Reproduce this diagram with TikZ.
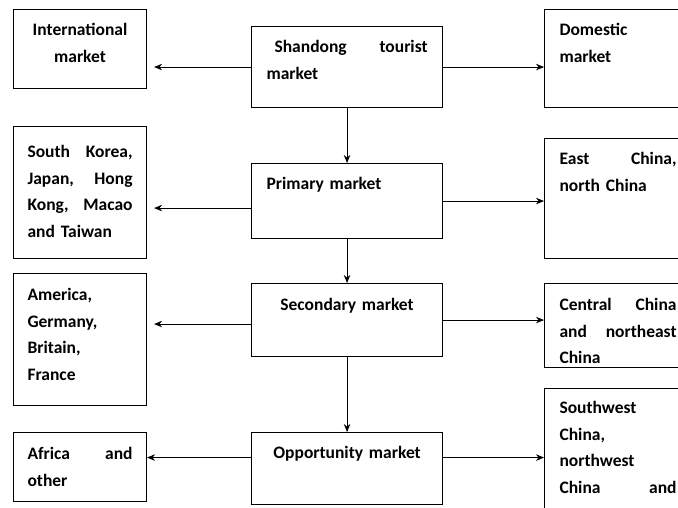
\documentclass[tikz,border=0pt]{standalone}
\usepackage{fontspec}
\setmainfont{Carlito}
\usetikzlibrary{arrows.meta}

\begin{document}
\begin{tikzpicture}[x=1pt, y=-1pt,
    sidebox/.style={rectangle, draw, line width=1.1pt, anchor=north west, inner xsep=14pt, inner ysep=0pt, text height=26pt, text width=105pt, align=left, font=\bfseries\fontsize{17.5}{26.5}\selectfont},
    mainbox/.style={sidebox, inner xsep=15pt, text width=161pt},
    farbox/.style={sidebox, inner xsep=15pt, text width=117pt},
    arrow/.style={->, line width=0.9pt, >={Stealth[length=8pt, width=6.5pt]}}]

    \clip (0,0) rectangle (678,507);

    \node[sidebox, align=center, text depth=53pt] (intl) at (13,9) {International\\market};
    \node[sidebox, text height=31pt, text depth=101pt] (kor) at (13,126) {South\hfill Korea,\\Japan,\hfill Hong\\Kong,\hfill Macao\\and Taiwan};
    \node[sidebox, text height=27pt, text depth=105pt] (amer) at (13,273) {America,\\Germany,\\Britain,\\France};
    \node[sidebox, text height=27pt, text depth=42pt] (afr) at (13,432) {Africa\hfill and\\other};

    \node[mainbox, text depth=55pt] (shan) at (251,26) {\hspace*{8pt}Shandong\hfill tourist\\market};
    \node[mainbox, text depth=49pt] (prim) at (251,163) {Primary market};
    \node[mainbox, align=center, text height=27pt, text depth=46pt] (sec) at (251,283) {Secondary market};
    \node[mainbox, align=center, text depth=46pt] (opp) at (251,432) {Opportunity market};

    \node[farbox, text depth=72pt] (dom) at (544,9) {Domestic\\market};
    \node[farbox, text depth=94pt] (east) at (544,138) {East\hfill China,\\north China};
    \node[farbox, text height=27pt, text depth=57pt] (cent) at (544,283) {Central\hfill China\\and\hfill northeast\\China};
    \node[farbox, text height=25pt, text depth=117pt] (sw) at (544,388) {Southwest\\China,\\northwest\\China\hfill and};

    \draw[arrow] (shan.south) -- (prim.north);
    \draw[arrow] (prim.south) -- (sec.north);
    \draw[arrow] (sec.south) -- (opp.north);

    \draw[arrow, shorten >=7pt] (shan.west) -- (shan.west -| intl.east);
    \draw[arrow] (shan.east) -- (shan.east -| dom.west);
    \draw[arrow, shorten >=7pt] ([yshift=-7pt]prim.west) -- ([yshift=-7pt]prim.west -| kor.east);
    \draw[arrow] (prim.east) -- (prim.east -| east.west);
    \draw[arrow, shorten >=7pt] ([yshift=-4pt]sec.west) -- ([yshift=-4pt]sec.west -| amer.east);
    \draw[arrow] (sec.east) -- (sec.east -| cent.west);
    \draw[arrow] ([yshift=11pt]opp.west) -- ([yshift=11pt]opp.west -| afr.east);
    \draw[arrow] ([yshift=11pt]opp.east) -- ([yshift=11pt]opp.east -| sw.west);
\end{tikzpicture}
\end{document}
